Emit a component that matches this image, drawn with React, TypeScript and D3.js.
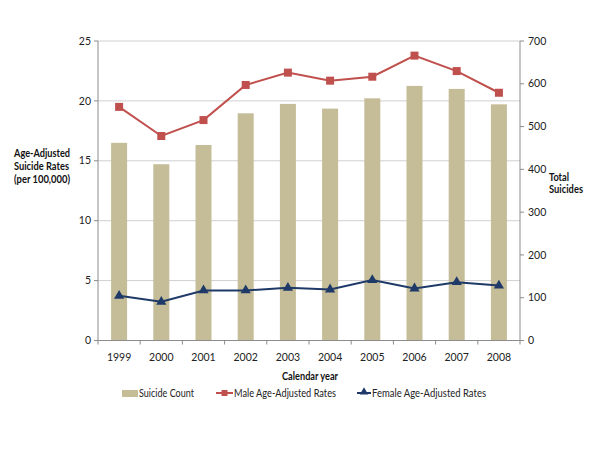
import React from "react";
import * as d3 from "d3";

const years = ["1999", "2000", "2001", "2002", "2003", "2004", "2005", "2006", "2007", "2008"];
const suicideCount = [462, 412, 457, 531, 553, 542, 566, 595, 588, 552];
const maleRates = [19.5, 17.07, 18.4, 21.33, 22.36, 21.69, 22.02, 23.78, 22.49, 20.68];
const femaleRates = [3.73, 3.23, 4.18, 4.18, 4.4, 4.26, 5.04, 4.34, 4.87, 4.59];
const leftTicks = [0, 5, 10, 15, 20, 25];
const rightTicks = [0, 100, 200, 300, 400, 500, 600, 700];

const FONT = "Lato, 'Open Sans', sans-serif";
const BAR = "#C4BD97";
const RED = "#C0504D";
const BLUE = "#1F3A68";

export default function App() {
  const W = 600, H = 450;
  const x0 = 98, x1 = 520, yTop = 41, yBot = 340.5;
  const x = d3.scaleBand<string>().domain(years).range([x0, x1]).paddingInner(0).paddingOuter(0);
  const yL = d3.scaleLinear().domain([0, 25]).range([yBot, yTop]);
  const yR = d3.scaleLinear().domain([0, 700]).range([yBot, yTop]);
  const bw = 16;
  const cx = (d: string) => (x(d) as number) + x.bandwidth() / 2;
  const line = d3.line<number>().x((_, i) => cx(years[i])).y((v) => yL(v));
  const tri = d3.symbol().type(d3.symbolTriangle).size(45)() as string;
  const fs = 10.5;

  return (
    <svg width={W} height={H} style={{ position: "absolute", left: 0, top: 0, background: "#fff" }} fontFamily={FONT}>
      {leftTicks.slice(1).map((t) => (
        <line key={"g" + t} x1={x0} x2={x1} y1={yL(t)} y2={yL(t)} stroke="#D0D0D0" strokeWidth={1} />
      ))}
      {suicideCount.map((v, i) => (
        <rect key={"b" + i} x={cx(years[i]) - bw / 2} y={yR(v)} width={bw} height={yBot - yR(v)} fill={BAR} />
      ))}
      <line x1={x0} x2={x0} y1={yTop} y2={yBot} stroke="#8C8C8C" />
      <line x1={x1} x2={x1} y1={yTop} y2={yBot} stroke="#8C8C8C" />
      <line x1={x0} x2={x1} y1={yBot} y2={yBot} stroke="#8C8C8C" />
      {leftTicks.map((t) => (
        <g key={"l" + t}>
          <line x1={x0 - 4} x2={x0} y1={yL(t)} y2={yL(t)} stroke="#8C8C8C" />
          <text x={x0 - 7} y={yL(t)} dy="0.35em" textAnchor="end" fontSize={fs} fill="#222">{t}</text>
        </g>
      ))}
      {rightTicks.map((t) => (
        <g key={"r" + t}>
          <line x1={x1} x2={x1 + 4} y1={yR(t)} y2={yR(t)} stroke="#8C8C8C" />
          <text x={x1 + 8} y={yR(t)} dy="0.35em" textAnchor="start" fontSize={fs} fill="#222">{t}</text>
        </g>
      ))}
      {years.concat(["end"]).map((d, i) => {
        const xx = x0 + i * x.bandwidth();
        return <line key={"xt" + i} x1={xx} x2={xx} y1={yBot} y2={yBot + 4} stroke="#8C8C8C" />;
      })}
      {years.map((d) => (
        <text key={"xl" + d} x={cx(d)} y={357} dy="0.35em" textAnchor="middle" fontSize={fs} fill="#222">{d}</text>
      ))}
      <path d={line(maleRates) as string} fill="none" stroke={RED} strokeWidth={2} />
      {maleRates.map((v, i) => (
        <rect key={"m" + i} x={cx(years[i]) - 4} y={yL(v) - 4} width={8} height={8} fill={RED} />
      ))}
      <path d={line(femaleRates) as string} fill="none" stroke={BLUE} strokeWidth={2} />
      {femaleRates.map((v, i) => (
        <path key={"f" + i} d={tri} transform={`translate(${cx(years[i])},${yL(v)})`} fill={BLUE} />
      ))}
      <text fontSize={fs} fontWeight="bold" fill="#111">
        <tspan x={14} y={157} textLength={56} lengthAdjust="spacingAndGlyphs">Age-Adjusted</tspan>
        <tspan x={14} y={170} textLength={55} lengthAdjust="spacingAndGlyphs">Suicide Rates</tspan>
        <tspan x={14} y={183} textLength={56} lengthAdjust="spacingAndGlyphs">(per 100,000)</tspan>
      </text>
      <text fontSize={fs} fontWeight="bold" fill="#111">
        <tspan x={549} y={181} textLength={20} lengthAdjust="spacingAndGlyphs">Total</tspan>
        <tspan x={549} y={193} textLength={34} lengthAdjust="spacingAndGlyphs">Suicides</tspan>
      </text>
      <text x={282} y={376} dy="0.35em" fontSize={fs} fontWeight="bold" fill="#111" textLength={56} lengthAdjust="spacingAndGlyphs">Calendar year</text>
      <rect x={122} y={390} width={16} height={7} fill={BAR} />
      <text x={139} y={393} dy="0.35em" fontSize={fs} fill="#222" textLength={55} lengthAdjust="spacingAndGlyphs">Suicide Count</text>
      <line x1={216} x2={233} y1={393} y2={393} stroke={RED} strokeWidth={2} />
      <rect x={221.5} y={390} width={6} height={6} fill={RED} />
      <text x={234} y={393} dy="0.35em" fontSize={fs} fill="#222" textLength={102} lengthAdjust="spacingAndGlyphs">Male Age-Adjusted Rates</text>
      <line x1={357} x2={371} y1={393} y2={393} stroke={BLUE} strokeWidth={2} />
      <path d={d3.symbol().type(d3.symbolTriangle).size(30)() as string} transform="translate(364,392)" fill={BLUE} />
      <text x={372} y={393} dy="0.35em" fontSize={fs} fill="#222" textLength={114} lengthAdjust="spacingAndGlyphs">Female Age-Adjusted Rates</text>
    </svg>
  );
}
